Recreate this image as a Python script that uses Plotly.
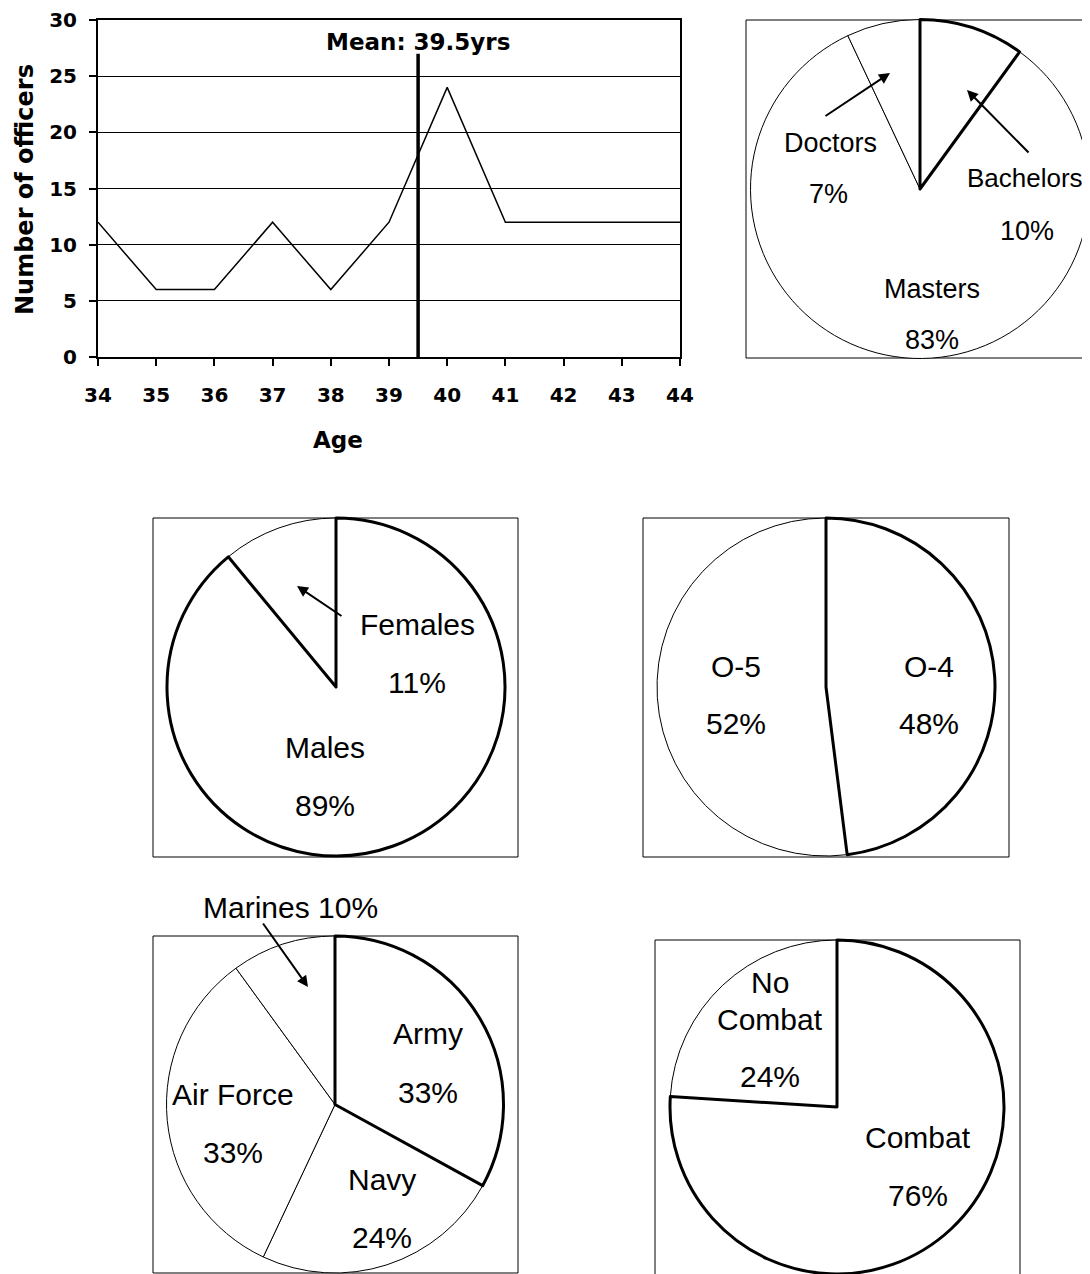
import plotly.graph_objects as go

# page body margin is 8px, so the figure is sized to fill the window exactly
OFF = 8
W, H = 1090 - OFF, 1274 - OFF

# ---------------- data ----------------
ages = [34, 35, 36, 37, 38, 39, 40, 41, 42, 43, 44]
officers = [12, 6, 6, 12, 6, 12, 24, 12, 12, 12, 12]
mean_age = 39.5
y_ticks = [0, 5, 10, 15, 20, 25, 30]

edu_labels = ["Bachelors", "Masters", "Doctors"]
edu_values = [10, 83, 7]

gender_labels = ["Males", "Females"]
gender_values = [89, 11]

rank_labels = ["O-4", "O-5"]
rank_values = [48, 52]

service_labels = ["Army", "Navy", "Air Force", "Marines"]
service_values = [33, 24, 33, 10]

combat_labels = ["Combat", "No Combat"]
combat_values = [76, 24]

# ---------------- helpers (screen px -> paper fraction) ----------------
def fx(x):
    return (x - OFF) / W


def fy(y):
    return 1 - (y - OFF) / H


def px(x):
    return min(max(fx(x), 0.0), 1.0)


def py(y):
    return min(max(fy(y), 0.0), 1.0)


fig = go.Figure()

BOLD = dict(family="DejaVu Sans", size=20, color="black", weight="bold")
PIEFONT = "Liberation Sans, Arial, sans-serif"

# ---------------- line chart ----------------
fig.add_trace(go.Scatter(
    x=ages, y=officers, mode="lines",
    line=dict(color="black", width=1.5),
    showlegend=False, hoverinfo="x+y",
))

fig.update_layout(
    xaxis=dict(
        domain=[px(98), px(680)], range=[34, 44], tickvals=ages,
        ticks="outside", ticklen=7, tickwidth=2, tickcolor="black",
        showline=True, linecolor="black", linewidth=2, mirror=True,
        showgrid=False, zeroline=False, tickfont=BOLD,
        ticklabelstandoff=12, automargin=False,
    ),
    yaxis=dict(
        domain=[py(357), py(20)], range=[0, 30], tickvals=y_ticks,
        ticks="outside", ticklen=7, tickwidth=2, tickcolor="black",
        showline=True, linecolor="black", linewidth=2, mirror=True,
        showgrid=True, gridcolor="black", gridwidth=1, zeroline=False,
        tickfont=BOLD, ticklabelstandoff=8, automargin=False,
    ),
)

# mean line
fig.add_shape(type="line", xref="x", yref="y", x0=mean_age, x1=mean_age,
              y0=0, y1=27, line=dict(color="black", width=3.5))

annotations = []
annotations.append(dict(xref="x", yref="y", x=mean_age, y=28,
                        text=f"Mean: {mean_age}yrs", showarrow=False,
                        xanchor="center", yanchor="middle",
                        font=dict(family="DejaVu Sans", size=23, color="black", weight="bold")))
annotations.append(dict(xref="paper", yref="paper", x=fx(338), y=fy(440),
                        text="Age", showarrow=False, xanchor="center", yanchor="middle",
                        font=dict(family="DejaVu Sans", size=23, color="black", weight="bold")))
annotations.append(dict(xref="paper", yref="paper", x=fx(25), y=fy(190),
                        text="Number of officers", showarrow=False, textangle=-90,
                        xanchor="center", yanchor="middle",
                        font=dict(family="DejaVu Sans", size=24, color="black", weight="bold")))

# ---------------- pies ----------------
def add_pie(labels, values, cx, cy, d, thick_idx):
    n = len(values)
    dom = dict(x=[px(cx - d / 2), px(cx + d / 2)], y=[py(cy + d / 2), py(cy - d / 2)])
    fig.add_trace(go.Pie(
        labels=labels, values=values, domain=dom, sort=False,
        direction="clockwise", rotation=0, textinfo="none",
        hoverinfo="label+percent", showlegend=False, automargin=False,
        marker=dict(colors=["white"] * n, line=dict(color="black", width=1)),
    ))
    fig.add_trace(go.Pie(
        labels=labels, values=values, domain=dom, sort=False,
        direction="clockwise", rotation=0, textinfo="none",
        hoverinfo="skip", showlegend=False, automargin=False,
        marker=dict(colors=["rgba(0,0,0,0)"] * n,
                    line=dict(color="black",
                              width=[3 if i == thick_idx else 0 for i in range(n)])),
    ))


def box(x0, y0, x1, y1):
    fig.add_shape(type="rect", xref="paper", yref="paper",
                  x0=fx(x0), x1=fx(x1), y0=fy(y1), y1=fy(y0),
                  line=dict(color="black", width=1), layer="below")


def label(text, x, y, size=30):
    annotations.append(dict(xref="paper", yref="paper", x=fx(x), y=fy(y),
                            text=text, showarrow=False, xanchor="center",
                            yanchor="middle",
                            font=dict(family=PIEFONT, size=size, color="black")))


def arrow(tail, head):
    annotations.append(dict(xref="paper", yref="paper", x=fx(head[0]), y=fy(head[1]),
                            ax=tail[0] - head[0], ay=tail[1] - head[1],
                            axref="pixel", ayref="pixel", text="", showarrow=True,
                            arrowhead=2, arrowsize=1.1, arrowwidth=2, arrowcolor="black"))


# Education
box(746, 20, 1100, 358)
add_pie(edu_labels, edu_values, 920, 189, 339, 0)
label(edu_labels[2], 830, 143, 27)
label(f"{edu_values[2]}%", 829, 194, 27)
label(edu_labels[0], 1025, 178, 26)
label(f"{edu_values[0]}%", 1027, 231, 27)
label(edu_labels[1], 932, 289, 27)
label(f"{edu_values[1]}%", 932, 340, 27)
arrow((824, 117), (890, 73))
arrow((1030, 154), (967, 90))

# Gender
box(153, 518, 518, 857)
add_pie(gender_labels, gender_values, 336, 687, 338, 0)
label(gender_labels[1], 417, 624)
label(f"{gender_values[1]}%", 417, 682)
label(gender_labels[0], 325, 747)
label(f"{gender_values[0]}%", 325, 805)
arrow((343, 617), (297, 586))

# Rank
box(643, 518, 1009, 857)
add_pie(rank_labels, rank_values, 826, 687, 338, 0)
label(rank_labels[1], 736, 666)
label(f"{rank_values[1]}%", 736, 723)
label(rank_labels[0], 929, 666)
label(f"{rank_values[0]}%", 929, 723)

# Service
box(153, 936, 518, 1273)
add_pie(service_labels, service_values, 335, 1104.5, 337, 0)
label(f"{service_labels[3]} {service_values[3]}%", 290, 907)
arrow((262, 922), (308, 987))
label(service_labels[0], 428, 1033)
label(f"{service_values[0]}%", 428, 1092)
label(service_labels[2], 233, 1094)
label(f"{service_values[2]}%", 233, 1152)
label(service_labels[1], 382, 1179)
label(f"{service_values[1]}%", 382, 1237)

# Combat
box(655, 940, 1020, 1290)
add_pie(combat_labels, combat_values, 837, 1107, 334, 0)
label("No", 770, 982)
label("Combat", 770, 1019)
label(f"{combat_values[1]}%", 770, 1076)
label(combat_labels[0], 918, 1137)
label(f"{combat_values[0]}%", 918, 1195)

fig.update_layout(
    width=W, height=H, margin=dict(l=0, r=0, t=0, b=0, autoexpand=False),
    paper_bgcolor="white", plot_bgcolor="white", showlegend=False,
    annotations=annotations,
)

fig.write_html("out.html")
